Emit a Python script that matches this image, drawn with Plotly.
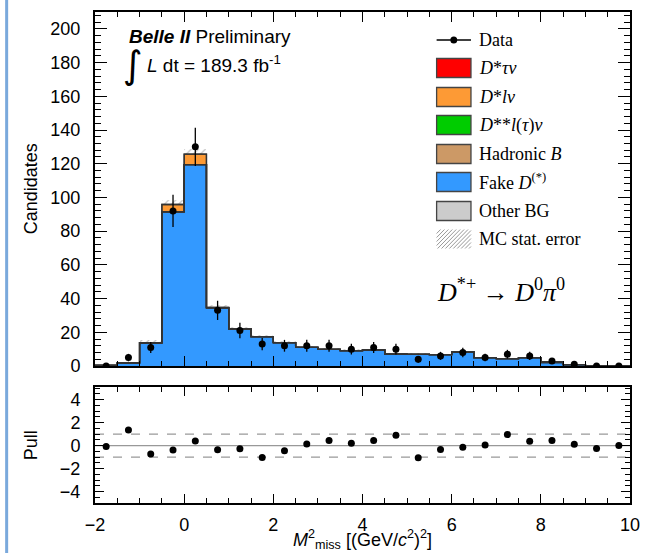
import plotly.graph_objects as go

# ---------------- data ----------------
bin_centers = [-1.75, -1.25, -0.75, -0.25, 0.25, 0.75, 1.25, 1.75, 2.25, 2.75, 3.25, 3.75,
               4.25, 4.75, 5.25, 5.75, 6.25, 6.75, 7.25, 7.75, 8.25, 8.75, 9.25, 9.75]
bin_width = 0.5

data_counts = [0, 5, 11, 92, 130, 33, 21, 13, 12, 12, 12, 10,
               11, 10, 4, 6, 8, 5, 7, 6, 3, 1, 0, 0]
data_errors = [0, 2.2, 3.3, 9.6, 11.4, 5.7, 4.6, 3.6, 3.5, 3.5, 3.5, 3.2,
               3.3, 3.2, 2.0, 2.4, 2.8, 2.2, 2.6, 2.4, 1.7, 1.0, 0, 0]

fake_dstar = [0.3, 1.8, 13.8, 91.5, 119.5, 34.5, 22.0, 17.4, 13.9, 11.1, 9.9, 9.1,
              9.5, 7.1, 6.9, 6.7, 8.3, 5.0, 4.4, 5.0, 1.8, 0.8, 0.2, 0.1]
other_bg = [0, 0, 0, 0, 0, 0, 0, 0, 0, 0, 0, 0,
            0, 0, 0, 0, 0, 0, 0, 0, 0.6, 0, 0, 0]
hadronic_b = [0, 0, 0, 0, 0, 0, 0, 0, 0, 0, 0, 0,
              0, 0, 0, 0, 0, 0, 0, 0, 0, 0, 0, 0]
dstarstar_lnu = [0, 0, 0, 0, 0, 0, 0, 0, 0, 0, 0, 0,
                 0, 0, 0, 0, 0, 0, 0, 0, 0, 0, 0, 0]
dstar_lnu = [0, 0, 0, 4.3, 6.2, 0.3, 0, 0, 0, 0, 0, 0,
             0, 0, 0, 0, 0, 0, 0, 0, 0, 0, 0, 0]
dstar_taunu = [0, 0, 0, 0, 0, 0, 0, 0, 0, 0, 0, 0,
               0, 0, 0, 0, 0, 0, 0, 0, 0, 0, 0, 0]
mc_stat_err = [0.3, 0.8, 1.5, 2.5, 2.8, 1.5, 1.2, 1.1, 1.0, 0.9, 0.9, 0.8,
               0.8, 0.7, 0.7, 0.7, 0.8, 0.6, 0.6, 0.6, 0.4, 0.3, 0.2, 0.1]

pulls = [-0.08, 1.35, -0.73, -0.39, 0.39, -0.37, -0.28, -1.04, -0.45, 0.14, 0.45, 0.20,
         0.45, 0.90, -1.07, -0.34, -0.14, 0.06, 0.96, 0.37, 0.45, 0.11, -0.25, 0.0]

legend_labels = ["<i>D</i>*<i>τν</i>", "<i>D</i>*<i>lν</i>", "<i>D</i>**<i>l</i>(<i>τ</i>)<i>ν</i>",
                 "Hadronic <i>B</i>", "Fake <i>D</i><sup>(*)</sup>", "Other BG"]

# ---------------- styles ----------------
C_RED, C_ORANGE, C_GREEN = "#ff0000", "#fd9a35", "#00cc00"
C_TAN, C_BLUE, C_GRAY = "#cc9966", "#3399ff", "#cccccc"
EDGE = "#333333"
SANS = "Liberation Sans, Arial, sans-serif"
SERIF = "Liberation Serif, Times New Roman, serif"

# stacking order bottom -> top
stack = [("Fake D(*)", fake_dstar, C_BLUE),
         ("Other BG", other_bg, C_GRAY),
         ("Hadronic B", hadronic_b, C_TAN),
         ("D**l(tau)nu", dstarstar_lnu, C_GREEN),
         ("D*lnu", dstar_lnu, C_ORANGE),
         ("D*taunu", dstar_taunu, C_RED)]

n = len(bin_centers)
total = [sum(comp[1][i] for comp in stack) for i in range(n)]

fig = go.Figure()

# MC stat. error band (drawn first; the stack hides its lower half)
fig.add_trace(go.Bar(
    x=bin_centers, y=[2 * e for e in mc_stat_err],
    base=[t - e for t, e in zip(total, mc_stat_err)],
    width=bin_width, marker=dict(color="rgba(0,0,0,0)", line=dict(width=0),
                                 pattern=dict(shape="/", fgcolor="#888888", bgcolor="rgba(0,0,0,0)",
                                              size=5, solidity=0.25, fillmode="overlay")),
    showlegend=False, hoverinfo="skip", xaxis="x", yaxis="y"))

# stacked components
cum = [0.0] * n
levels = []
for name, vals, col in stack:
    fig.add_trace(go.Bar(x=bin_centers, y=vals, base=list(cum), width=bin_width,
                         marker=dict(color=col, line=dict(width=0)),
                         name=name, showlegend=False, xaxis="x", yaxis="y"))
    cum = [c + v for c, v in zip(cum, vals)]
    levels.append(list(cum))

# step outlines of the cumulative levels
edges = [c - bin_width / 2 for c in bin_centers] + [bin_centers[-1] + bin_width / 2]
for lev in levels:
    fig.add_trace(go.Scatter(x=edges, y=lev + [lev[-1]], mode="lines",
                             line=dict(shape="hv", color=EDGE, width=1.3),
                             showlegend=False, hoverinfo="skip", xaxis="x", yaxis="y"))

# data points
fig.add_trace(go.Scatter(x=bin_centers, y=data_counts, mode="markers",
                         marker=dict(color="black", size=7),
                         error_y=dict(type="data", array=data_errors, color="black",
                                      thickness=1.3, width=0),
                         showlegend=False, xaxis="x", yaxis="y"))

# pull points
fig.add_trace(go.Scatter(x=bin_centers, y=pulls, mode="markers",
                         marker=dict(color="black", size=7),
                         showlegend=False, xaxis="x2", yaxis="y2"))

# ---------------- layout geometry ----------------
W, H = 650, 553
L, R, T, B = 95, 10, 12, 50
PW, PH = W - L - R, H - T - B


def px(x):
    return (x - L) / PW


def py(y):
    return (H - B - y) / PH


main_dom = [py(366), 1.0]
pull_dom = [0.0, py(387)]

axis_common = dict(showline=True, linecolor="black", linewidth=2, mirror="ticks",
                   ticks="inside", tickcolor="black", showgrid=False, zeroline=False,
                   tickfont=dict(family=SANS, size=18, color="black"))

fig.update_layout(
    width=W, height=H, margin=dict(l=L, r=R, t=T, b=B),
    paper_bgcolor="white", plot_bgcolor="white",
    barmode="overlay", bargap=0, showlegend=False,
    xaxis=dict(axis_common, domain=[0, 1], range=[-2, 10], anchor="y", matches="x2",
               showticklabels=False, tick0=0, dtick=2, ticklen=10, tickwidth=1,
               minor=dict(dtick=0.5, tick0=0, ticklen=5, ticks="inside", tickcolor="black")),
    yaxis=dict(axis_common, domain=main_dom, range=[0, 210], anchor="x",
               tick0=0, dtick=20, ticklen=12, tickwidth=1, ticklabelstandoff=9,
               minor=dict(dtick=4, tick0=0, ticklen=6, ticks="inside", tickcolor="black")),
    xaxis2=dict(axis_common, domain=[0, 1], range=[-2, 10], anchor="y2",
                tick0=0, dtick=2, ticklen=9, tickwidth=1, ticklabelstandoff=4,
                minor=dict(dtick=0.5, tick0=0, ticklen=5, ticks="inside", tickcolor="black")),
    yaxis2=dict(axis_common, domain=pull_dom, range=[-5, 5.1], anchor="x2",
                tick0=0, dtick=2, ticklen=9, tickwidth=1, ticklabelstandoff=9,
                minor=dict(dtick=0.5, tick0=0, ticklen=5, ticks="inside", tickcolor="black")),
)

shapes = []
# pull reference lines
shapes.append(dict(type="line", xref="x2 domain", yref="y2", x0=0, x1=1, y0=0, y1=0,
                   line=dict(color="#999999", width=1.2), layer="below"))
for yv in (1, -1):
    shapes.append(dict(type="line", xref="x2 domain", yref="y2", x0=0, x1=1, y0=yv, y1=yv,
                       line=dict(color="#999999", width=1.2, dash="dash"), layer="below"))

annotations = []

# ---------------- legend (drawn by hand) ----------------
bx0, bx1 = 443, 478
row_y = [40, 68, 97, 125, 154, 182, 211, 239]
box_h = 19
txt_x = 484
# Data entry
shapes.append(dict(type="line", xref="paper", yref="paper", x0=px(bx0), x1=px(bx1),
                   y0=py(row_y[0]), y1=py(row_y[0]), line=dict(color="black", width=1.3)))
shapes.append(dict(type="circle", xref="paper", yref="paper",
                   x0=px((bx0 + bx1) / 2 - 3.5), x1=px((bx0 + bx1) / 2 + 3.5),
                   y0=py(row_y[0] - 3.5), y1=py(row_y[0] + 3.5),
                   fillcolor="black", line=dict(color="black", width=0)))
annotations.append(dict(xref="paper", yref="paper", x=px(txt_x), y=py(row_y[0]),
                        text="Data", showarrow=False, xanchor="left", yanchor="middle",
                        font=dict(family=SERIF, size=18, color="black")))
leg_colors = [C_RED, C_ORANGE, C_GREEN, C_TAN, C_BLUE, C_GRAY]
for i, (lab, col) in enumerate(zip(legend_labels, leg_colors)):
    yc = row_y[i + 1]
    shapes.append(dict(type="rect", xref="paper", yref="paper", x0=px(bx0), x1=px(bx1),
                       y0=py(yc + box_h / 2), y1=py(yc - box_h / 2),
                       fillcolor=col, line=dict(color="#444444", width=1.3)))
    annotations.append(dict(xref="paper", yref="paper", x=px(txt_x), y=py(yc),
                            text=lab, showarrow=False, xanchor="left", yanchor="middle",
                            font=dict(family=SERIF, size=18, color="black")))
# hatch entry
yc = row_y[7]
ytop, ybot = yc - box_h / 2, yc + box_h / 2
step = 4
k = bx0 - (ybot - ytop)
while k < bx1:
    xa, ya = k, ybot
    xb, yb = k + (ybot - ytop), ytop
    if xa < bx0:
        ya = ybot - (bx0 - xa)
        xa = bx0
    if xb > bx1:
        yb = ytop + (xb - bx1)
        xb = bx1
    if xb > xa:
        shapes.append(dict(type="line", xref="paper", yref="paper", x0=px(xa), y0=py(ya),
                           x1=px(xb), y1=py(yb), line=dict(color="#999999", width=1)))
    k += step
annotations.append(dict(xref="paper", yref="paper", x=px(txt_x), y=py(yc),
                        text="MC stat. error", showarrow=False, xanchor="left", yanchor="middle",
                        font=dict(family=SERIF, size=18, color="black")))

# decay label
annotations.append(dict(xref="paper", yref="paper", x=px(441), y=py(290),
                        text="<i>D</i><sup>*+</sup> → <i>D</i><sup>0</sup><i>π</i><sup>0</sup>",
                        showarrow=False, xanchor="left", yanchor="middle",
                        font=dict(family=SERIF, size=26, color="black")))

# Belle II labels
annotations.append(dict(xref="paper", yref="paper", x=px(128), y=py(36),
                        text="<b><i>Belle II</i></b> Preliminary", showarrow=False,
                        xanchor="left", yanchor="middle",
                        font=dict(family=SANS, size=19, color="black")))
annotations.append(dict(xref="paper", yref="paper", x=px(121), y=py(65),
                        text="∫", showarrow=False, xanchor="left", yanchor="middle",
                        font=dict(family="DejaVu Sans", size=38, color="black")))
annotations.append(dict(xref="paper", yref="paper", x=px(146), y=py(64),
                        text="<i>L</i> dt = 189.3 fb<sup>-1</sup>", showarrow=False,
                        xanchor="left", yanchor="middle",
                        font=dict(family=SANS, size=19, color="black")))

# axis titles
annotations.append(dict(xref="paper", yref="paper", x=px(30), y=(main_dom[0] + main_dom[1]) / 2,
                        text="Candidates", textangle=-90, showarrow=False,
                        xanchor="center", yanchor="middle",
                        font=dict(family=SANS, size=18, color="black")))
annotations.append(dict(xref="paper", yref="paper", x=px(30), y=(pull_dom[0] + pull_dom[1]) / 2,
                        text="Pull", textangle=-90, showarrow=False,
                        xanchor="center", yanchor="middle",
                        font=dict(family=SANS, size=18, color="black")))
annotations.append(dict(xref="paper", yref="paper", x=px(367), y=py(539),
                        text="<i>M</i><sup>2</sup><sub>miss</sub> [(GeV/<i>c</i><sup>2</sup>)<sup>2</sup>]",
                        showarrow=False, xanchor="center", yanchor="middle",
                        font=dict(family=SANS, size=18, color="black")))

# left page border seen in the reference screenshot
shapes.append(dict(type="line", xref="paper", yref="paper", x0=px(5), x1=px(5),
                   y0=py(0), y1=py(H), line=dict(color="#7aa9dc", width=3)))

fig.update_layout(shapes=shapes, annotations=annotations)
fig.write_html("out.html", config={"displayModeBar": False},
               post_script="document.body.style.margin='0';")
